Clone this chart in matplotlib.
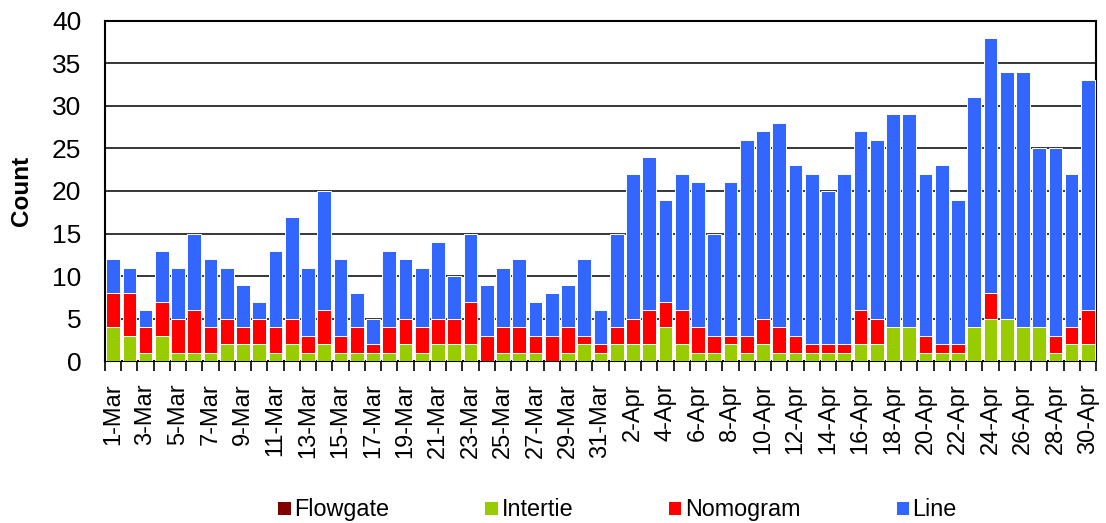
import matplotlib
matplotlib.use("Agg")
import matplotlib.pyplot as plt
import numpy as np

plt.rcParams['font.family'] = ['Liberation Sans', 'DejaVu Sans']

# daily counts, 1-Mar .. 30-Apr
dias = [str(d) + "-Mar" for d in range(1, 32)] + [str(d) + "-Apr" for d in range(1, 31)]

flowgate = [0] * 61
intertie = [4, 3, 1, 3, 1, 1, 1, 2, 2, 2, 1, 2, 1, 2, 1, 1, 1, 1, 2, 1,
            2, 2, 2, 0, 1, 1, 1, 0, 1, 2, 1,
            2, 2, 2, 4, 2, 1, 1, 2, 1, 2, 1, 1, 1, 1, 1, 2, 2, 4, 4,
            1, 1, 1, 4, 5, 5, 4, 4, 1, 2, 2]
nomogram = [4, 5, 3, 4, 4, 5, 3, 3, 2, 3, 3, 3, 2, 4, 2, 3, 1, 3, 3, 3,
            3, 3, 5, 3, 3, 3, 2, 3, 3, 1, 1,
            2, 3, 4, 3, 4, 3, 2, 1, 2, 3, 3, 2, 1, 1, 1, 4, 3, 0, 0,
            2, 1, 1, 0, 3, 0, 0, 0, 2, 2, 4]
line = [4, 3, 2, 6, 6, 9, 8, 6, 5, 2, 9, 12, 8, 14, 9, 4, 3, 9, 7, 7,
        9, 5, 8, 6, 7, 8, 4, 5, 5, 9, 4,
        11, 17, 18, 12, 16, 17, 12, 18, 23, 22, 24, 20, 20, 18, 20, 21, 21, 25, 25,
        19, 21, 17, 27, 30, 29, 30, 21, 22, 18, 27]

series = [("Flowgate", flowgate, "#800000"),
          ("Intertie", intertie, "#99CC00"),
          ("Nomogram", nomogram, "#FF0000"),
          ("Line", line, "#3366FF")]

fig = plt.figure(figsize=(11.06, 5.23), dpi=100)
ax = fig.add_axes([0.0949, 0.3088, 0.8961, 0.652])

x = np.arange(len(dias))
base = np.zeros(len(dias))
for nome, vals, cor in series:
    ax.bar(x, vals, 0.84, bottom=base, color=cor, edgecolor="white",
           linewidth=0.7, label=nome, zorder=3)
    base = base + np.array(vals)

ax.set_xlim(-0.5, len(dias) - 0.5)
ax.set_ylim(0, 40)
ax.set_yticks(range(0, 41, 5))
ax.yaxis.grid(True, color="black", linewidth=1.1, zorder=0)
ax.tick_params(axis="y", length=0, pad=17, labelsize=19)

# ticks on category boundaries, labels on every other day
ax.set_xticks(np.arange(-0.5, len(dias), 1))
ax.set_xticklabels([])
ax.tick_params(axis="x", which="major", direction="out", length=7, width=1.2)
ax.set_xticks(x[::2], minor=True)
ax.set_xticklabels(dias[::2], minor=True, rotation=90, fontsize=17)
ax.tick_params(axis="x", which="minor", length=0, pad=15.5)

for s in ax.spines.values():
    s.set_linewidth(1.5)
    s.set_color("black")

ax.set_ylabel("Count", fontsize=17.5, fontweight="bold")
ax.yaxis.set_label_coords(-0.073, 0.5)

fig.legend(loc="center", bbox_to_anchor=(0.558, 0.025), ncol=4, frameon=False,
           fontsize=16.8, handlelength=0.56, handleheight=0.56,
           handletextpad=0.17, columnspacing=4.07)

plt.savefig("out.png", dpi=100)
